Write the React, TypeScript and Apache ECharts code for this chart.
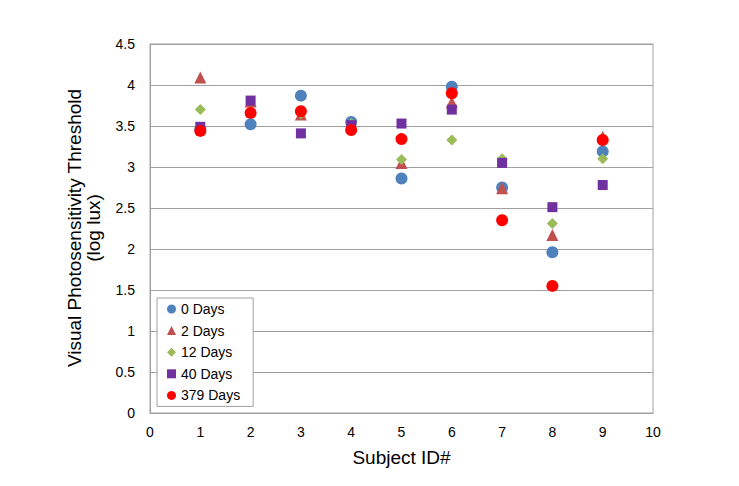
import React, { useEffect, useRef } from "react";
import * as echarts from "echarts";

const subjects = [1, 2, 3, 4, 5, 6, 7, 8, 9];
const days0 = [3.46, 3.52, 3.87, 3.55, 2.86, 3.98, 2.75, 1.96, 3.19];
const days2 = [4.09, 3.80, 3.64, 3.50, 3.05, 3.79, 2.74, 2.17, 3.37];
const days12 = [3.70, 3.66, 3.65, 3.53, 3.09, 3.33, 3.10, 2.31, 3.10];
const days40 = [3.49, 3.81, 3.41, 3.51, 3.53, 3.70, 3.05, 2.51, 2.78];
const days379 = [3.44, 3.66, 3.68, 3.45, 3.34, 3.90, 2.35, 1.55, 3.33];
const seriesNames = ["0 Days", "2 Days", "12 Days", "40 Days", "379 Days"];

const FONT = "'Liberation Sans', Arial, sans-serif";

export default function App() {
  const ref = useRef<HTMLDivElement>(null);
  useEffect(() => {
    if (!ref.current) return;
    const chart = echarts.init(ref.current, undefined, { renderer: "svg" });
    const pair = (vals: number[]) => subjects.map((s, i) => [s, vals[i]]);
    const defs = [
      { data: days0, symbol: "circle", size: 12, color: "#4F81BD" },
      { data: days2, symbol: "triangle", size: 12, color: "#C0504D" },
      { data: days12, symbol: "diamond", size: 11, color: "#9BBB59" },
      { data: days40, symbol: "rect", size: 10, color: "#7030A0" },
      { data: days379, symbol: "circle", size: 12, color: "#FF0000" },
    ];
    chart.setOption({
      animation: false,
      textStyle: { fontFamily: FONT },
      grid: {
        left: 150,
        right: 86,
        top: 44,
        bottom: 73,
        show: true,
        borderColor: "#a0a0a0",
        borderWidth: 1,
      },
      xAxis: {
        type: "value",
        min: 0,
        max: 10,
        interval: 1,
        axisLine: { show: true, lineStyle: { color: "#a0a0a0" } },
        axisTick: { show: false },
        splitLine: { show: false },
        axisLabel: { color: "#000", fontSize: 14, margin: 12, fontFamily: FONT },
      },
      yAxis: {
        type: "value",
        min: 0,
        max: 4.5,
        interval: 0.5,
        axisLine: { show: true, lineStyle: { color: "#a0a0a0" } },
        axisTick: { show: false },
        splitLine: { show: true, lineStyle: { color: "#a0a0a0", width: 1 } },
        axisLabel: { color: "#000", fontSize: 14, margin: 15, fontFamily: FONT },
      },
      legend: {
        orient: "vertical",
        left: 157,
        top: 298,
        padding: [3, 13, 3, 10],
        itemWidth: 9,
        itemHeight: 9,
        itemGap: 5.6,
        itemTextGap: 3,
        borderColor: "#a0a0a0",
        borderWidth: 1,
        backgroundColor: "#fff",
        textStyle: { fontSize: 14, lineHeight: 16, color: "#000", fontFamily: FONT },
        data: seriesNames,
      },
      graphic: [
        {
          type: "text",
          x: 401.5,
          y: 457,
          style: {
            text: "Subject ID#",
            fontSize: 19,
            fontFamily: FONT,
            fill: "#000",
            align: "center",
            verticalAlign: "middle",
          },
        },
        {
          type: "text",
          x: 84,
          y: 228,
          rotation: Math.PI / 2,
          style: {
            text: "Visual Photosensitivity Threshold\n(log lux)",
            fontSize: 19,
            lineHeight: 19,
            fontFamily: FONT,
            fill: "#000",
            align: "center",
            verticalAlign: "middle",
          },
        },
      ],
      series: defs.map((d, i) => ({
        name: seriesNames[i],
        type: "scatter",
        symbol: d.symbol,
        symbolSize: d.size,
        itemStyle: { color: d.color, opacity: 1 },
        data: pair(d.data),
        z: 2 + i,
      })),
    });
    return () => chart.dispose();
  }, []);
  return <div ref={ref} style={{ width: 739, height: 486, margin: -8 }} />;
}
